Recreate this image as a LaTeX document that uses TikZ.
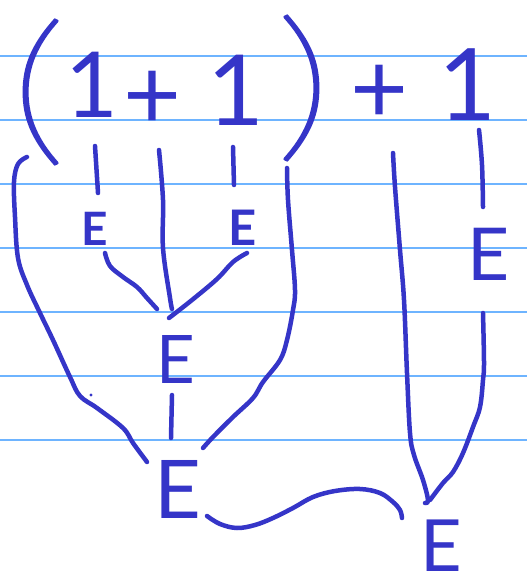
\documentclass[tikz,border=0pt]{standalone}
\usepackage{fontspec}
\usepackage{graphicx}
\setmainfont{Lato}
\IfFontExistsTF{Lato Thin}{\newfontfamily\parenfont{Lato Thin}[FakeBold=1.6]}{%
  \IfFontExistsTF{Lato Hairline}{\newfontfamily\parenfont{Lato Hairline}[FakeBold=2.2]}{\newfontfamily\parenfont{Lato}}}
\definecolor{ink}{RGB}{53,53,200}
\definecolor{ruleblue}{RGB}{110,180,255}
\begin{document}
\begin{tikzpicture}[x=1pt,y=-1pt,
  inkline/.style={draw=ink,line width=4.5pt,line cap=round,line join=round},
  sym/.style={text=ink,inner sep=0pt,anchor=base},
  paren/.style={text=ink,inner sep=0pt,anchor=center},
  ruling/.style={draw=ruleblue,line width=2pt}]
\fill[white] (0,0) rectangle (527,577);
\useasboundingbox (0,0) rectangle (527,577);
\foreach \y in {56,120,184,248,312,376,440} \draw[ruling] (0,\y) -- (527,\y);

% symbols
\node[paren,font=\parenfont\fontsize{165}{165}\selectfont] (lp) at (38,92) {\scalebox{1.35}[1]{(}};
\node[paren,font=\parenfont\fontsize{165}{165}\selectfont] (rp) at (304,88) {\scalebox{1.35}[1]{)}};
\node[sym,font=\fontsize{91}{91}\selectfont] (one1) at (92,118) {1};
\node[paren,font=\fontsize{100}{100}\selectfont] (plus1) at (152,100) {+};
\node[sym,font=\fontsize{98}{98}\selectfont] (one2) at (236,126) {1};
\node[paren,font=\fontsize{100}{100}\selectfont] (plus3) at (379,94) {+};
\node[sym,font=\fontsize{100}{100}\selectfont] (one4) at (467,121) {1};
\node[sym,font=\bfseries\fontsize{46}{46}\selectfont] (e1) at (95,245) {E};
\node[sym,font=\bfseries\fontsize{49}{49}\selectfont] (e2) at (243,245) {E};
\node[sym,font=\fontsize{67}{67}\selectfont] (e3) at (176,383) {E};
\node[sym,font=\fontsize{81}{81}\selectfont] (e4) at (178,518) {E};
\node[sym,font=\fontsize{73}{73}\selectfont] (e5) at (489,280) {E};
\node[sym,font=\fontsize{72}{72}\selectfont] (e6) at (441,571) {E};

% connectors
\draw[inkline] (95,146) -- (98,193);
\draw[inkline] (233,147) -- (234,185);
\draw[inkline] plot[smooth,tension=0.6] coordinates {(479,130) (482,165) (483,207)};
\draw[inkline] plot[smooth,tension=0.6] coordinates {(159,150) (163,200) (163,248) (170,298) (172,309)};
\draw[inkline] plot[smooth,tension=0.6] coordinates {(105,253) (110,266) (123,277) (137,287) (147,298) (157,309)};
\draw[inkline] plot[smooth,tension=0.6] coordinates {(247,253) (233,262) (217,279) (192,300) (169,318)};
\draw[inkline] (172,395) -- (171,438);
\draw[inkline] plot[smooth,tension=0.6] coordinates {(27,157) (18,164) (14,182) (15,217) (18,258) (27,285) (40,313) (53,340) (70,377) (80,396) (97,408) (123,428) (133,443) (147,462)};
\fill[ink] (91,395) circle (1.6pt);
\draw[inkline] plot[smooth,tension=0.6] coordinates {(287,168) (288,200) (292,250) (295,290) (293,310) (287,340) (280,360) (263,382) (253,398) (233,417) (213,437) (203,448)};
\draw[inkline] plot[smooth,tension=0.6] coordinates {(393,153) (395,187) (400,250) (404,300) (407,373) (410,433) (414,455) (423,480) (428,500) (425,503)};
\draw[inkline] plot[smooth,tension=0.6] coordinates {(483,313) (484,363) (483,380) (480,407) (473,427) (463,453) (453,472) (443,483) (430,500)};
\draw[inkline] plot[smooth,tension=0.6] coordinates {(207,516) (220,524) (237,528) (255,525) (273,518) (293,508) (313,497) (335,491) (360,489) (380,493) (393,502) (400,510) (402,518)};
\end{tikzpicture}
\end{document}
